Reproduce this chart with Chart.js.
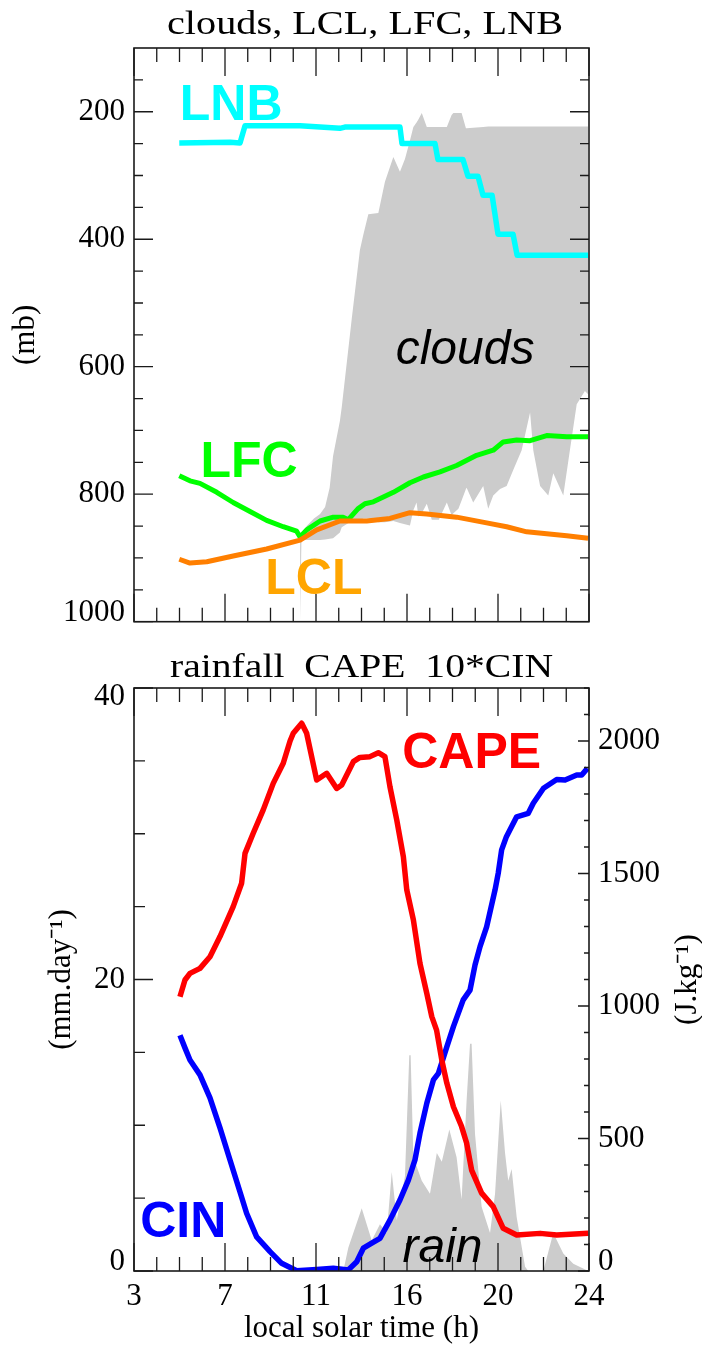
<!DOCTYPE html>
<html><head><meta charset="utf-8">
<script src="https://cdn.jsdelivr.net/npm/chart.js@4.4.1/dist/chart.umd.min.js"></script>
<style>
html,body{margin:0;padding:0;background:#fff;}
#wrap{position:relative;width:702px;height:1347px;overflow:hidden;background:#fff;}
#c1{position:absolute;left:0;top:0;}
#c2{position:absolute;left:0;top:640px;}
</style></head><body>
<div id="wrap"><canvas id="c1" width="702" height="640"></canvas><canvas id="c2" width="702" height="707"></canvas></div>
<script>
// ---------- axis ticks ----------
const xMajorTicks = [0, 4, 8, 12, 16, 20];
const xTickLabels = ['3', '7', '11', '16', '20', '24'];
const xMinorTicks = []; for (let v = 0; v <= 20; v++) xMinorTicks.push(v);
const pTicks = [200, 400, 600, 800, 1000];
const pMinorTicks = []; for (let v = 150; v <= 1000; v += 50) pMinorTicks.push(v);
const rainTicks = [0, 20, 40];
const rainMinorTicks = []; for (let v = 0; v <= 40; v += 5) rainMinorTicks.push(v);
const capeTicks = [0, 500, 1000, 1500, 2000];
const capeMinorTicks = []; for (let v = 0; v <= 2200; v += 100) capeMinorTicks.push(v);

// ---------- top panel data (pressure, mb) ----------
const lnbTime = [1.99, 4.22, 4.66, 4.88, 7.30, 9.05, 9.27, 11.69, 11.78, 13.23, 13.36, 14.46, 14.68, 15.12, 15.34, 15.74, 16.00, 16.66, 16.84, 19.96];
const lnbP    = [249, 248, 249, 222, 222, 226, 224, 224, 250, 250, 275, 275, 301, 301, 331, 331, 392, 392, 425, 425];

const lfcTime = [1.99, 2.46, 2.90, 3.64, 4.36, 5.10, 5.83, 6.56, 7.15, 7.30, 7.59, 8.18, 8.76, 9.19, 9.42, 9.84, 10.15, 10.52, 11.40, 12.13, 12.72, 13.45, 14.18, 15.06, 15.79, 16.23, 16.82, 17.41, 18.14, 19.02, 19.96];
const lfcP    = [771, 779, 783, 797, 813, 827, 841, 851, 858, 867, 856, 842, 836, 836, 840, 823, 815, 812, 797, 782, 773, 765, 755, 739, 731, 718, 715, 716, 708, 710, 710];

const lclTime = [1.99, 2.46, 3.20, 4.36, 5.83, 7.30, 8.03, 8.91, 9.05, 10.23, 11.25, 12.13, 12.87, 14.18, 15.50, 16.38, 17.26, 18.14, 19.02, 19.96];
const lclP    = [902, 908, 906, 897, 886, 872, 856, 844, 842, 842, 838, 829, 831, 836, 845, 851, 859, 862, 865, 869];

const cloudTime = [7.30, 7.36, 7.59, 7.91, 8.18, 8.40, 8.60, 8.75, 9.05, 9.13, 9.57, 9.93, 10.08, 10.30, 10.74, 11.03, 11.40, 11.69, 11.91, 12.13, 12.28, 12.42, 12.50, 12.65, 12.87, 13.09, 13.40, 13.75, 13.96, 14.04, 14.26, 14.40, 14.59, 14.62, 14.91, 15.35, 15.57, 15.79, 16.09, 16.38, 16.67, 17.04, 17.41, 17.55, 17.85, 18.21, 18.43, 18.87, 19.16, 19.46, 19.82, 19.96];
const cloudTopP = [872, 866, 850, 838, 831, 820, 790, 740, 685, 664, 525, 417, 393, 361, 359, 310, 271, 294, 274, 245, 224, 217, 212, 202, 224, 224, 224, 224, 205, 202, 202, 202, 226, 226, 225, 224, 223, 223, 223, 223, 223, 223, 223, 223, 223, 223, 223, 223, 223, 223, 223, 223];
const cloudBaseP = [1000, 872, 872, 872, 872, 871, 870, 869, 860, 852, 842, 841, 838, 838, 844, 844, 842, 845, 847, 849, 825, 813, 835, 830, 815, 840, 840, 813, 833, 830, 823, 810, 792, 790, 813, 787, 823, 802, 792, 787, 762, 731, 672, 731, 787, 802, 767, 802, 731, 659, 638, 643];

// ---------- bottom panel data ----------
const rainTime = [9.20, 9.42, 9.64, 10.01, 10.45, 10.81, 11.11, 11.33, 11.55, 11.91, 12.10, 12.16, 12.28, 12.65, 13.01, 13.31, 13.53, 13.86, 14.18, 14.40, 14.62, 14.77, 14.84, 14.99, 15.28, 15.65, 15.87, 16.12, 16.31, 16.45, 16.60, 16.82, 17.19, 17.33, 17.99, 18.43, 18.87, 19.31, 19.97];
const rainMm   = [0, 1.6, 2.6, 4.3, 2.1, 3.2, 2.6, 6.8, 3.5, 6.5, 14.8, 14.8, 7.8, 6.2, 5.3, 8.1, 7.5, 9.7, 7.8, 4.9, 11.7, 15.6, 15.6, 9.4, 4.4, 2.6, 5.3, 11.7, 8.1, 6.2, 7.0, 3.7, 0.3, 0, 0, 2.6, 1.2, 0.5, 0];

const capeTime = [2.02, 2.24, 2.46, 2.90, 3.34, 3.78, 4.36, 4.73, 4.88, 5.24, 5.68, 6.12, 6.56, 6.86, 7.00, 7.37, 7.59, 8.03, 8.47, 8.91, 9.13, 9.64, 9.93, 10.37, 10.74, 11.03, 11.25, 11.55, 11.84, 11.99, 12.28, 12.57, 12.87, 13.09, 13.30, 13.53, 13.75, 14.04, 14.40, 14.62, 14.84, 15.28, 15.79, 16.23, 16.82, 17.85, 18.58, 19.97];
const capeVal  = [1035, 1098, 1123, 1142, 1186, 1262, 1375, 1463, 1576, 1652, 1740, 1840, 1916, 2000, 2029, 2067, 2029, 1853, 1878, 1821, 1834, 1922, 1938, 1941, 1956, 1941, 1828, 1702, 1563, 1438, 1325, 1161, 1048, 960, 909, 796, 709, 620, 545, 483, 381, 294, 243, 161, 136, 142, 136, 142];

const cinTime = [2.02, 2.24, 2.46, 2.90, 3.34, 3.78, 4.22, 4.66, 4.95, 5.39, 5.98, 6.49, 7.15, 8.03, 8.76, 9.42, 9.79, 10.08, 10.45, 10.81, 11.25, 11.69, 12.06, 12.35, 12.57, 12.87, 13.16, 13.38, 13.75, 14.04, 14.47, 14.77, 14.99, 15.21, 15.50, 15.87, 16.01, 16.16, 16.37, 16.82, 17.33, 17.55, 18.00, 18.58, 18.95, 19.46, 19.68, 19.93];
const cin10Val = [890, 842, 796, 740, 653, 540, 419, 298, 218, 129, 73, 29, 1, 6, 10, 4, 35, 86, 105, 123, 192, 268, 343, 419, 520, 633, 721, 746, 846, 922, 1023, 1060, 1155, 1224, 1299, 1438, 1501, 1589, 1639, 1714, 1727, 1765, 1822, 1855, 1853, 1872, 1872, 1897];

// ---------- helpers ----------
const SERIF = "'Liberation Serif','Times New Roman',serif";
const SANS = "'Liberation Sans',Arial,Helvetica,sans-serif";
const pts = (xs, ys) => xs.map((x, i) => ({x: x, y: ys[i]}));

function edgeLabel(value) {
  const s = this;
  const lab = String(value);
  const atLow = s.options.reverse ? value === s.max : value === s.min;
  const atHigh = s.options.reverse ? value === s.min : value === s.max;
  if (atLow) return [lab, ''];
  if (atHigh) return ['', lab];
  return lab;
}

const frameTicks = {
  id: 'frameTicks',
  afterDatasetsDraw(chart, args, opts) {
    const ctx = chart.ctx, a = chart.chartArea;
    ctx.save();
    ctx.strokeStyle = '#1a1a1a';
    ctx.lineWidth = 1.3;
    ctx.beginPath();
    for (const ax of opts.axes) {
      const s = chart.scales[ax.scale];
      for (const v of ax.values) {
        const len = ax.majors.includes(v) ? ax.major : ax.minor;
        const p = s.getPixelForValue(v);
        for (const side of ax.sides) {
          if (side === 'top') { ctx.moveTo(p, a.top); ctx.lineTo(p, a.top + len); }
          else if (side === 'bottom') { ctx.moveTo(p, a.bottom); ctx.lineTo(p, a.bottom - len); }
          else if (side === 'left') { ctx.moveTo(a.left, p); ctx.lineTo(a.left + len, p); }
          else { ctx.moveTo(a.right, p); ctx.lineTo(a.right - len, p); }
        }
      }
    }
    ctx.stroke();
    ctx.lineWidth = 1.6;
    ctx.strokeRect(a.left, a.top, a.right - a.left, a.bottom - a.top);
    ctx.restore();
  }
};

const dataLabels = {
  id: 'dataLabels',
  afterDatasetsDraw(chart, args, opts) {
    const ctx = chart.ctx;
    ctx.save();
    for (const t of opts.items) {
      const px = chart.scales[t.xScale].getPixelForValue(t.x);
      const py = chart.scales[t.yScale].getPixelForValue(t.y);
      ctx.font = t.font;
      ctx.fillStyle = t.color;
      ctx.textAlign = 'left';
      ctx.textBaseline = 'alphabetic';
      ctx.fillText(t.text, px, py);
    }
    ctx.restore();
  }
};

const pageText = {
  id: 'pageText',
  afterDraw(chart, args, opts) {
    const ctx = chart.ctx, a = chart.chartArea;
    ctx.save();
    for (const t of opts.items) {
      ctx.save();
      ctx.font = t.font;
      ctx.fillStyle = '#000';
      ctx.textAlign = 'center';
      ctx.textBaseline = t.baseline || 'alphabetic';
      const y = t.y === 'mid' ? (a.top + a.bottom) / 2 : t.y;
      ctx.translate(t.x, y);
      if (t.rotate) ctx.rotate(t.rotate);
      if (t.width) { const w = ctx.measureText(t.text).width; ctx.scale(t.width / w, 1); }
      ctx.fillText(t.text, 0, 0);
      ctx.restore();
    }
    ctx.restore();
  }
};

Chart.defaults.font.family = SERIF;
Chart.defaults.color = '#000';

const commonElements = {
  point: {radius: 0, hoverRadius: 0},
  line: {tension: 0, borderJoinStyle: 'round', borderCapStyle: 'butt'}
};

// ---------- top chart ----------
new Chart(document.getElementById('c1'), {
  type: 'line',
  data: {
    datasets: [
      {label: 'clouds top', data: pts(cloudTime, cloudTopP), fill: '+1', backgroundColor: '#cccccc', borderColor: 'rgba(0,0,0,0)', borderWidth: 0, order: 10},
      {label: 'clouds base', data: pts(cloudTime, cloudBaseP), fill: false, borderColor: 'rgba(0,0,0,0)', borderWidth: 0, order: 11},
      {label: 'LNB', data: pts(lnbTime, lnbP), borderColor: '#00ffff', borderWidth: 5.5, fill: false, order: 3},
      {label: 'LFC', data: pts(lfcTime, lfcP), borderColor: '#00ff00', borderWidth: 5, fill: false, order: 2},
      {label: 'LCL', data: pts(lclTime, lclP), borderColor: '#ff7f00', borderWidth: 5, fill: false, order: 1}
    ]
  },
  options: {
    responsive: false, animation: false, devicePixelRatio: 1,
    events: [],
    elements: commonElements,
    layout: {padding: {top: 48, right: 113, bottom: 8, left: 0}},
    scales: {
      x: {type: 'linear', min: 0, max: 20, display: false},
      y: {
        type: 'linear', position: 'left', reverse: true, min: 100, max: 1000,
        afterBuildTicks: s => { s.ticks = pTicks.map(v => ({value: v})); },
        afterFit: s => { s.width = 134; },
        grid: {display: false, drawTicks: false},
        border: {display: false},
        ticks: {padding: 9, color: '#000', font: {family: SERIF, size: 31, lineHeight: 0.6}, callback: edgeLabel},
        title: {display: true, text: '(mb)', color: '#000', font: {family: SERIF, size: 31, lineHeight: 1.2}, padding: {top: 7, bottom: 0}}
      }
    },
    plugins: {
      legend: {display: false}, tooltip: {enabled: false},
      frameTicks: {axes: [
        {scale: 'x', sides: ['top', 'bottom'], values: xMinorTicks, majors: xMajorTicks, major: 28, minor: 14},
        {scale: 'y', sides: ['left', 'right'], values: pMinorTicks, majors: pTicks, major: 19, minor: 9}
      ]},
      dataLabels: {items: [
        {text: 'LNB', x: 2.01, y: 213, xScale: 'x', yScale: 'y', color: '#00ffff', font: 'bold 50px ' + SANS},
        {text: 'LFC', x: 2.92, y: 773, xScale: 'x', yScale: 'y', color: '#00ff00', font: 'bold 50px ' + SANS},
        {text: 'LCL', x: 5.77, y: 956, xScale: 'x', yScale: 'y', color: '#ffa500', font: 'bold 50px ' + SANS},
        {text: 'clouds', x: 11.50, y: 595, xScale: 'x', yScale: 'y', color: '#000000', font: 'italic 48px ' + SANS}
      ]},
      pageText: {items: [
        {text: 'clouds, LCL, LFC, LNB', x: 365, y: 34, font: '34px ' + SERIF, width: 396}
      ]}
    }
  },
  plugins: [frameTicks, dataLabels, pageText]
});

// ---------- bottom chart ----------
new Chart(document.getElementById('c2'), {
  type: 'line',
  data: {
    datasets: [
      {label: 'rain', data: pts(rainTime, rainMm), yAxisID: 'yL', fill: 'origin', backgroundColor: '#cccccc', borderColor: 'rgba(0,0,0,0)', borderWidth: 0, order: 10},
      {label: 'CAPE', data: pts(capeTime, capeVal), yAxisID: 'yR', borderColor: '#ff0000', borderWidth: 5.5, fill: false, order: 1},
      {label: '10*CIN', data: pts(cinTime, cin10Val), yAxisID: 'yR', borderColor: '#0000ff', borderWidth: 5.5, fill: false, order: 2}
    ]
  },
  options: {
    responsive: false, animation: false, devicePixelRatio: 1,
    events: [],
    elements: commonElements,
    layout: {padding: {top: 48, right: 0, bottom: 0, left: 0}},
    scales: {
      x: {
        type: 'linear', min: 0, max: 20, position: 'bottom',
        afterBuildTicks: s => { s.ticks = xMajorTicks.map(v => ({value: v})); },
        afterFit: s => { s.height = 76; },
        grid: {display: false, drawTicks: false},
        border: {display: false},
        ticks: {padding: 7, color: '#000', maxRotation: 0, autoSkip: false, font: {family: SERIF, size: 31},
          callback: function (v) { const i = xMajorTicks.indexOf(v); return i >= 0 ? xTickLabels[i] : ''; }},
        title: {display: true, text: 'local solar time (h)', color: '#000', font: {family: SERIF, size: 31, lineHeight: 1.2}, padding: {top: 0, bottom: 0}}
      },
      yL: {
        type: 'linear', position: 'left', min: 0, max: 40,
        afterBuildTicks: s => { s.ticks = rainTicks.map(v => ({value: v})); },
        afterFit: s => { s.width = 134; },
        grid: {display: false, drawTicks: false},
        border: {display: false},
        ticks: {padding: 9, color: '#000', font: {family: SERIF, size: 31, lineHeight: 0.6}, callback: edgeLabel},
        title: {display: true, text: '(mm.day\u207B\u00B9)', color: '#000', font: {family: SERIF, size: 31, lineHeight: 1.2}, padding: {top: 43, bottom: 0}}
      },
      yR: {
        type: 'linear', position: 'right', min: 0, max: 2200,
        afterBuildTicks: s => { s.ticks = capeTicks.map(v => ({value: v})); },
        afterFit: s => { s.width = 113; },
        grid: {display: false, drawTicks: false},
        border: {display: false},
        ticks: {padding: 9, color: '#000', font: {family: SERIF, size: 31, lineHeight: 0.6}, callback: edgeLabel}
      }
    },
    plugins: {
      legend: {display: false}, tooltip: {enabled: false},
      frameTicks: {axes: [
        {scale: 'x', sides: ['top', 'bottom'], values: xMinorTicks, majors: xMajorTicks, major: 28, minor: 14},
        {scale: 'yL', sides: ['left'], values: rainMinorTicks, majors: rainTicks, major: 19, minor: 11},
        {scale: 'yR', sides: ['right'], values: capeMinorTicks, majors: capeTicks, major: 11, minor: 5}
      ]},
      dataLabels: {items: [
        {text: 'CAPE', x: 11.79, y: 34.5, xScale: 'x', yScale: 'yL', color: '#ff0000', font: 'bold 50px ' + SANS},
        {text: 'CIN', x: 0.27, y: 2.35, xScale: 'x', yScale: 'yL', color: '#0000ff', font: 'bold 50px ' + SANS},
        {text: 'rain', x: 11.80, y: 0.64, xScale: 'x', yScale: 'yL', color: '#000000', font: 'italic 48px ' + SANS}
      ]},
      pageText: {items: [
        {text: 'rainfall  CAPE  10*CIN', x: 361.5, y: 36.7, font: '34px ' + SERIF, width: 383},
        {text: '(J.kg\u207B\u00B9)', x: 688, y: 'mid', font: '31px ' + SERIF, rotate: -Math.PI / 2, baseline: 'middle'}
      ]}
    }
  },
  plugins: [frameTicks, dataLabels, pageText]
});
</script>
</body></html>
